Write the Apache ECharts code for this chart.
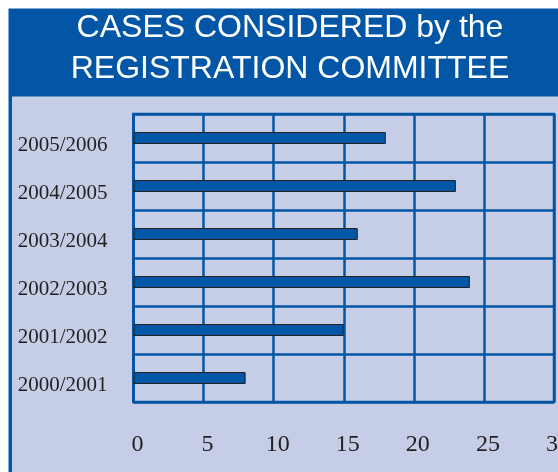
<!DOCTYPE html>
<html>
<head>
<meta charset="utf-8">
<script src="https://cdn.jsdelivr.net/npm/echarts@6/dist/echarts.min.js"></script>
<style>
  html, body { margin: 0; padding: 0; background: #fff; }
  #chart { width: 558px; height: 472px; }
</style>
</head>
<body>
<div id="chart"></div>
<script>
// seasons, bottom to top as drawn
const seasons = ["2000/2001", "2001/2002", "2002/2003", "2003/2004", "2004/2005", "2005/2006"];
const cases = [8, 15, 24, 16, 23, 18];
const xTicks = [0, 5, 10, 15, 20, 25, 30];

const blue = "#0356a5";
const lilac = "#c6cde7";
const ink = "#231f20";

const chart = echarts.init(document.getElementById("chart"));

chart.setOption({
  animation: false,
  title: {
    text: "CASES CONSIDERED by the\nREGISTRATION COMMITTEE",
    left: 290,
    top: 8,
    padding: 0,
    textAlign: "center",
    textStyle: {
      color: "#fff",
      fontFamily: "Liberation Sans",
      fontWeight: "normal",
      fontSize: 32,
      lineHeight: 40.5
    }
  },
  graphic: [
    {
      type: "rect",
      z: -10,
      shape: { x: 8.5, y: 8.5, width: 700, height: 700 },
      style: { fill: blue }
    },
    {
      type: "rect",
      z: -9,
      shape: { x: 12, y: 96.5, width: 700, height: 700 },
      style: { fill: lilac }
    }
  ],
  grid: {
    left: 133.5,
    top: 114,
    width: 420.5,
    height: 288,
    outerBoundsMode: "none",
    containLabel: false,
    show: true,
    borderColor: blue,
    borderWidth: 2.5,
    backgroundColor: "transparent"
  },
  xAxis: {
    type: "value",
    min: xTicks[0],
    max: xTicks[xTicks.length - 1],
    interval: 5,
    axisLine: { show: false },
    axisTick: { show: false },
    splitLine: { show: true, lineStyle: { color: blue, width: 2.5 } },
    axisLabel: {
      margin: 31,
      color: ink,
      fontFamily: "Liberation Serif",
      fontSize: 24,
      lineHeight: 24,
      padding: [0, 0, 0, 8],
      showMaxLabel: true
    }
  },
  yAxis: {
    type: "category",
    data: seasons,
    axisLine: { show: true, lineStyle: { color: blue, width: 2.5 } },
    axisTick: { show: false },
    splitLine: { show: true, interval: 0, lineStyle: { color: blue, width: 2.5 } },
    axisLabel: {
      margin: 26,
      interval: 0,
      color: ink,
      fontFamily: "Liberation Serif",
      fontSize: 21,
      verticalAlign: "top",
      lineHeight: 14
    }
  },
  series: [
    {
      type: "bar",
      data: cases,
      barWidth: 12,
      itemStyle: {
        color: blue,
        borderColor: "#222",
        borderWidth: 1
      }
    }
  ]
});
</script>
</body>
</html>
